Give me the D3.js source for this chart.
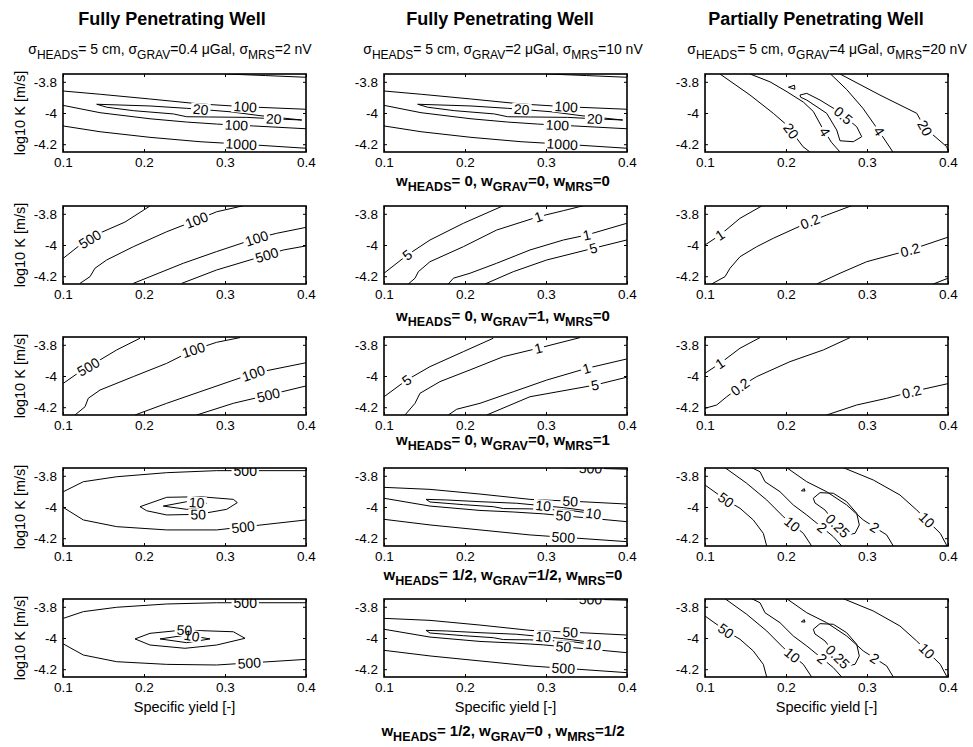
<!DOCTYPE html>
<html>
<head>
<meta charset="utf-8">
<script src="https://cdn.jsdelivr.net/npm/d3@7"></script>
<style>
  body { margin: 0; background: #fff; }
  svg text { font-family: "Liberation Sans", Arial, Helvetica, sans-serif; fill: #000; }
</style>
</head>
<body>
<div id="chart"></div>
<script>
// ---- data ----
const xDomain = [0.1, 0.4];
const yDomain = [-4.25, -3.75];
const xTicks = [0.1, 0.2, 0.3, 0.4];
const xTickLabels = ["0.1", "0.2", "0.3", "0.4"];
const yTicks = [-3.8, -4, -4.2];
const yTickLabels = ["-3.8", "-4", "-4.2"];

const colTitles = ["Fully Penetrating Well", "Fully Penetrating Well", "Partially Penetrating Well"];
const sigmaHeads = ["5 cm", "5 cm", "5 cm"];
const sigmaGrav = ["0.4", "2", "4"];
const sigmaMrs = ["2", "10", "20"];
const weightHeads = ["0", "0", "0", "1/2", "1/2"];
const weightGrav = ["0", "1", "0", "1/2", "0 "];
const weightMrs = ["0", "0", "1", "0", "1/2"];

// contour lines: level, points [Sy, log10K], label spots [Sy, log10K]
const fullyR1 = [
  { level: "1000", pts: [[0.302, -3.75], [0.35, -3.76], [0.40, -3.771]], labels: [] },
  { level: "100", pts: [[0.100, -3.859], [0.146, -3.880], [0.207, -3.910], [0.269, -3.942], [0.325, -3.960], [0.400, -3.976]], labels: [[0.325, -3.96]] },
  { level: "20", closed: true, pts: [[0.1416, -3.944], [0.2074, -3.955], [0.2527, -3.970], [0.3062, -3.992], [0.3432, -4.017], [0.3947, -4.045], [0.3596, -4.037], [0.3268, -4.028], [0.2527, -4.024], [0.2362, -4.006], [0.1868, -3.985], [0.1540, -3.963]], labels: [[0.27, -3.975], [0.36, -4.045]] },
  { level: "100", pts: [[0.1, -3.951], [0.1457, -3.998], [0.2074, -4.037], [0.2527, -4.058], [0.2897, -4.071], [0.3349, -4.083], [0.4, -4.101]], labels: [[0.314, -4.08]] },
  { level: "1000", pts: [[0.1, -4.083], [0.1457, -4.120], [0.2074, -4.156], [0.2691, -4.184], [0.3185, -4.199], [0.4, -4.226]], labels: [[0.32, -4.2]] }
];
const fullyR2a = [
  { level: "500", pts: [[0.1004, -4.085], [0.121, -4.0], [0.1457, -3.923], [0.1765, -3.853], [0.2074, -3.75]], labels: [[0.133, -3.96]] },
  { level: "100", pts: [[0.121, -4.246], [0.1333, -4.203], [0.1395, -4.149], [0.1539, -4.096], [0.1868, -4.011], [0.228, -3.915], [0.265, -3.840], [0.2897, -3.787], [0.3226, -3.748]], labels: [[0.265, -3.84]] },
  { level: "100", pts: [[0.1868, -4.246], [0.2074, -4.203], [0.2485, -4.117], [0.2897, -4.042], [0.3391, -3.957], [0.3638, -3.925], [0.4, -3.887]], labels: [[0.339, -3.957]] },
  { level: "500", pts: [[0.2465, -4.246], [0.2897, -4.160], [0.3309, -4.096], [0.3515, -4.064], [0.3720, -4.032], [0.4, -4.006]], labels: [[0.3515, -4.064]] }
];
const fullyR3a = [
  { level: "500", pts: [[0.1004, -4.047], [0.121, -3.972], [0.1457, -3.897], [0.1663, -3.833], [0.1951, -3.758]], labels: [[0.131, -3.94]] },
  { level: "100", pts: [[0.1148, -4.25], [0.1272, -4.197], [0.1312, -4.143], [0.1457, -4.090], [0.1868, -4.004], [0.228, -3.919], [0.2609, -3.833], [0.2897, -3.784], [0.3185, -3.754]], labels: [[0.261, -3.833]] },
  { level: "100", pts: [[0.1889, -4.25], [0.228, -4.175], [0.2691, -4.101], [0.3350, -3.983], [0.4, -3.915]], labels: [[0.335, -3.983]] },
  { level: "500", pts: [[0.2650, -4.25], [0.3103, -4.175], [0.3535, -4.122], [0.4, -4.064]], labels: [[0.3535, -4.122]] }
];
const fullyR4a = [
  { level: "500", pts: [[0.1004, -3.902], [0.1251, -3.838], [0.1663, -3.806], [0.228, -3.780], [0.2897, -3.767], [0.4, -3.767]], labels: [[0.325, -3.767]] },
  { level: "500", pts: [[0.1004, -4.003], [0.1251, -4.083], [0.1663, -4.126], [0.228, -4.147], [0.2897, -4.147], [0.4, -4.083]], labels: [[0.3226, -4.137]] },
  { level: "50", closed: true, pts: [[0.1951, -3.998], [0.228, -3.938], [0.2691, -3.934], [0.3103, -3.951], [0.3152, -3.972], [0.3021, -4.015], [0.267, -4.047], [0.228, -4.051], [0.2033, -4.024]], labels: [[0.267, -4.05]] },
  { level: "10", closed: true, pts: [[0.2238, -3.994], [0.2527, -3.966], [0.2774, -3.976], [0.2691, -4.008], [0.2527, -4.015]], labels: [[0.265, -3.975]] }
];
const fullyR5a = [
  { level: "500", pts: [[0.1004, -3.874], [0.1251, -3.831], [0.1663, -3.803], [0.228, -3.782], [0.2897, -3.774], [0.4, -3.774]], labels: [[0.325, -3.774]] },
  { level: "500", pts: [[0.1004, -4.038], [0.1251, -4.109], [0.1663, -4.152], [0.228, -4.169], [0.2897, -4.173], [0.4, -4.137]], labels: [[0.33, -4.16]] },
  { level: "50", closed: true, pts: [[0.1889, -4.006], [0.2074, -3.970], [0.2485, -3.949], [0.3103, -3.960], [0.3247, -4.002], [0.2897, -4.045], [0.2506, -4.066], [0.2074, -4.045]], labels: [[0.25, -3.95]] },
  { level: "10", closed: true, pts: [[0.2198, -4.006], [0.2527, -3.981], [0.2815, -4.006], [0.2527, -4.030]], labels: [[0.259, -3.985]] }
];
const fullyR2b = [
  { level: "5", pts: [[0.1, -4.181], [0.1288, -4.064], [0.1568, -3.968], [0.1979, -3.861], [0.2473, -3.748]], labels: [[0.1288, -4.064]] },
  { level: "1", pts: [[0.13, -4.25], [0.1383, -4.213], [0.1424, -4.171], [0.1568, -4.107], [0.1979, -4.011], [0.2391, -3.904], [0.2905, -3.819], [0.3214, -3.780], [0.3461, -3.748]], labels: [[0.2905, -3.819]] },
  { level: "1", pts: [[0.1794, -4.25], [0.1856, -4.213], [0.2062, -4.181], [0.2391, -4.117], [0.2802, -4.032], [0.3214, -3.968], [0.3502, -3.936], [0.3996, -3.861]], labels: [[0.3502, -3.936]] },
  { level: "5", pts: [[0.2247, -4.25], [0.2596, -4.171], [0.3009, -4.096], [0.3584, -4.021], [0.3996, -3.968]], labels: [[0.3584, -4.021]] }
];
const fullyR3b = [
  { level: "5", pts: [[0.1, -4.133], [0.128, -4.026], [0.1568, -3.940], [0.1979, -3.844], [0.2349, -3.758]], labels: [[0.128, -4.026]] },
  { level: "1", pts: [[0.1259, -4.25], [0.1383, -4.175], [0.1444, -4.111], [0.1691, -4.036], [0.2062, -3.961], [0.2473, -3.876], [0.2905, -3.822], [0.3420, -3.754]], labels: [[0.2905, -3.822]] },
  { level: "1", pts: [[0.1794, -4.25], [0.1898, -4.213], [0.2185, -4.175], [0.2596, -4.101], [0.3009, -4.026], [0.3502, -3.951], [0.3996, -3.891]], labels: [[0.3502, -3.951]] },
  { level: "5", pts: [[0.2268, -4.25], [0.2802, -4.133], [0.3605, -4.058], [0.3996, -4.008]], labels: [[0.3605, -4.058]] }
];
const fullyR4b = [
  { level: "500", pts: [[0.3214, -3.748], [0.36, -3.752], [0.3996, -3.758]], labels: [[0.355, -3.752]] },
  { level: "50", pts: [[0.1, -3.874], [0.1568, -3.887], [0.2185, -3.917], [0.2802, -3.951], [0.34, -3.965], [0.3996, -3.981]], labels: [[0.33, -3.96]] },
  { level: "10", closed: true, pts: [[0.1519, -3.951], [0.1774, -3.955], [0.2185, -3.966], [0.2638, -3.976], [0.3214, -4.004], [0.3502, -4.024], [0.3667, -4.048], [0.3296, -4.022], [0.2802, -4.012], [0.2473, -4.010], [0.2350, -3.998], [0.1979, -3.985], [0.1568, -3.968]], labels: [[0.2967, -3.99], [0.3584, -4.045]] },
  { level: "50", pts: [[0.1, -3.944], [0.1568, -3.994], [0.2185, -4.022], [0.2596, -4.032], [0.2967, -4.044], [0.3996, -4.094]], labels: [[0.3214, -4.072]] },
  { level: "500", pts: [[0.1, -4.079], [0.1568, -4.115], [0.2185, -4.147], [0.2802, -4.179], [0.3996, -4.222]], labels: [[0.3214, -4.194]] }
];
const partialR1 = [
  { level: "20", pts: [[0.1185, -3.75], [0.1556, -3.885], [0.1843, -4.002], [0.2009, -4.077], [0.2210, -4.216], [0.2296, -4.25]], labels: [[0.205, -4.12]] },
  { level: "4", pts: [[0.1556, -3.75], [0.1802, -3.80], [0.2000, -3.86], [0.2214, -3.93], [0.2337, -3.99], [0.2453, -4.10], [0.2564, -4.19], [0.2667, -4.25]], labels: [[0.2453, -4.13]] },
  { level: "0.5", closed: true, pts: [[0.2173, -3.885], [0.2256, -3.874], [0.2420, -3.917], [0.2650, -3.99], [0.2873, -4.088], [0.2935, -4.152], [0.2831, -4.184], [0.2667, -4.178], [0.2626, -4.109], [0.2502, -4.002], [0.2256, -3.917], [0.2181, -3.899]], labels: [[0.27, -4.02]] },
  { level: "0.5", closed: true, pts: [[0.203, -3.835], [0.2105, -3.822], [0.211, -3.848]], labels: [] },
  { level: "4", pts: [[0.255, -3.75], [0.275, -3.85], [0.295, -3.97], [0.314, -4.11], [0.332, -4.25]], labels: [[0.314, -4.12]] },
  { level: "20", pts: [[0.2667, -3.75], [0.316, -3.885], [0.3614, -4.002], [0.3716, -4.096], [0.3984, -4.216], [0.40, -4.24]], labels: [[0.3716, -4.096]] }
];
const partialR2 = [
  { level: "1", pts: [[0.1, -4.0], [0.1185, -3.936], [0.1432, -3.829], [0.1720, -3.744]], labels: [[0.1185, -3.936]] },
  { level: "0.2", pts: [[0.1082, -4.25], [0.1247, -4.203], [0.1309, -4.149], [0.1432, -4.075], [0.1638, -4.011], [0.1843, -3.957], [0.2296, -3.850], [0.2502, -3.808], [0.2831, -3.744]], labels: [[0.2296, -3.85]] },
  { level: "0.2", pts: [[0.2379, -4.25], [0.2667, -4.181], [0.2996, -4.107], [0.3531, -4.032], [0.4016, -3.947]], labels: [[0.3531, -4.032]] },
  { level: "0.2", pts: [[0.3819, -4.25], [0.4, -4.213]], labels: [] }
];
const partialR3 = [
  { level: "1", pts: [[0.1, -3.983], [0.1185, -3.919], [0.1432, -3.822], [0.1679, -3.754]], labels: [[0.1185, -3.919]] },
  { level: "0.2", pts: [[0.1, -4.207], [0.1144, -4.186], [0.1268, -4.133], [0.1432, -4.069], [0.1638, -4.004], [0.2049, -3.908], [0.2461, -3.833], [0.2790, -3.754]], labels: [[0.1432, -4.069]] },
  { level: "0.2", pts: [[0.2502, -4.25], [0.2872, -4.186], [0.3243, -4.143], [0.3552, -4.101], [0.4016, -4.047]], labels: [[0.3552, -4.101]] }
];
const partialR4 = [
  { level: "50", pts: [[0.1, -3.859], [0.1259, -3.955], [0.1432, -4.008], [0.1596, -4.083], [0.1720, -4.169], [0.1762, -4.25]], labels: [[0.1259, -3.955]] },
  { level: "10", pts: [[0.1247, -3.748], [0.1515, -3.848], [0.1762, -3.955], [0.1967, -4.062], [0.2214, -4.169], [0.2317, -4.25]], labels: [[0.207, -4.115]] },
  { level: "2", pts: [[0.1577, -3.748], [0.1679, -3.774], [0.1741, -3.838], [0.1926, -3.902], [0.2090, -3.987], [0.2256, -4.051], [0.2584, -4.19], [0.2688, -4.25]], labels: [[0.244, -4.137]] },
  { level: "0.25", closed: true, pts: [[0.2337, -3.944], [0.2420, -3.908], [0.2584, -3.912], [0.2749, -3.966], [0.2873, -4.040], [0.2905, -4.115], [0.2852, -4.169], [0.2749, -4.179], [0.2626, -4.115], [0.2481, -4.019], [0.2358, -3.974]], labels: [[0.2667, -4.105]] },
  { level: "0.25", closed: true, pts: [[0.219, -3.896], [0.2225, -3.882], [0.2235, -3.898]], labels: [] },
  { level: "2", pts: [[0.2009, -3.748], [0.2256, -3.838], [0.2502, -3.902], [0.2749, -3.987], [0.2954, -4.083], [0.3243, -4.179], [0.3325, -4.25]], labels: [[0.3099, -4.126]] },
  { level: "10", pts: [[0.2708, -3.748], [0.3078, -3.827], [0.3407, -3.923], [0.3613, -4.019], [0.3905, -4.169], [0.3988, -4.25]], labels: [[0.3737, -4.083]] }
];

const panelGrid = [
  [fullyR1, fullyR1, partialR1],
  [fullyR2a, fullyR2b, partialR2],
  [fullyR3a, fullyR3b, partialR3],
  [fullyR4a, fullyR4b, partialR4],
  [fullyR5a, fullyR4b, partialR4]
];

// ---- layout ----
const W = 973, H = 747;
const colX = [63, 384, 705];
const rowY = [74, 206, 337, 468, 599];
const plotW = 243, plotH = 78;
const titleX = [172, 500, 816];
const subX = [170, 503, 827];
const weightY = [186, 321, 445, 580, 736];

const svg = d3.select("#chart").append("svg")
  .attr("width", W).attr("height", H)
  .style("background", "#fff");

const x = d3.scaleLinear().domain(xDomain).range([0, plotW]);
const y = d3.scaleLinear().domain(yDomain).range([plotH, 0]);
const line = d3.line().x(d => x(d[0])).y(d => y(d[1]));

function richText(sel, parts, size, subSize, shift) {
  let off = 0;
  parts.forEach(p => {
    const target = p.sub ? shift : 0;
    sel.append("tspan")
      .attr("font-size", p.sub ? subSize : size)
      .attr("dy", target - off)
      .text(p.t);
    off = target;
  });
}

function nearest(px, q) {
  let best = { d: Infinity };
  for (let i = 0; i < px.length - 1; i++) {
    const a = px[i], b = px[i + 1];
    const dx = b[0] - a[0], dy = b[1] - a[1];
    const L2 = dx * dx + dy * dy || 1e-9;
    let t = ((q[0] - a[0]) * dx + (q[1] - a[1]) * dy) / L2;
    t = Math.max(0, Math.min(1, t));
    const cx = a[0] + t * dx, cy = a[1] + t * dy;
    const d = (cx - q[0]) ** 2 + (cy - q[1]) ** 2;
    if (d < best.d) best = { d, x: cx, y: cy, ang: Math.atan2(dy, dx) * 180 / Math.PI };
  }
  return best;
}

let pid = 0;
function drawPanel(g, lines) {
  const id = pid++;
  const defs = g.append("defs");
  defs.append("clipPath").attr("id", "clip" + id)
    .append("rect").attr("width", plotW).attr("height", plotH);
  const mask = defs.append("mask").attr("id", "mask" + id)
    .attr("maskUnits", "userSpaceOnUse")
    .attr("x", -10).attr("y", -10).attr("width", plotW + 20).attr("height", plotH + 20);
  mask.append("rect").attr("x", -10).attr("y", -10)
    .attr("width", plotW + 20).attr("height", plotH + 20).attr("fill", "white");

  const inner = g.append("g").attr("clip-path", `url(#clip${id})`);
  const lineG = inner.append("g").attr("mask", `url(#mask${id})`);
  const labelG = inner.append("g");

  lines.forEach(c => {
    const pts = c.closed ? c.pts.concat([c.pts[0]]) : c.pts;
    lineG.append("path").attr("d", line(pts))
      .attr("fill", "none").attr("stroke", "#000").attr("stroke-width", 1);
    const px = pts.map(p => [x(p[0]), y(p[1])]);
    c.labels.forEach(lp => {
      const nb = nearest(px, [x(lp[0]), y(lp[1])]);
      let ang = nb.ang;
      if (ang > 90) ang -= 180;
      if (ang < -90) ang += 180;
      const tr = `translate(${nb.x},${nb.y}) rotate(${ang})`;
      const t = labelG.append("text").attr("transform", tr)
        .attr("text-anchor", "middle").attr("dy", "0.36em")
        .attr("font-size", 14).text(c.level);
      const w = t.node().getComputedTextLength();
      mask.append("rect").attr("transform", tr)
        .attr("x", -w / 2 - 2).attr("y", -6).attr("width", w + 4).attr("height", 12)
        .attr("fill", "black");
    });
  });

  // axes with inward ticks
  const bottom = g.append("g").attr("transform", `translate(0,${plotH})`)
    .call(d3.axisBottom(x).tickValues(xTicks).tickSizeInner(-3).tickSizeOuter(0)
      .tickPadding(5).tickFormat((d, i) => xTickLabels[i]));
  const top = g.append("g")
    .call(d3.axisTop(x).tickValues(xTicks).tickSizeInner(-3).tickSizeOuter(0).tickFormat(""));
  const left = g.append("g")
    .call(d3.axisLeft(y).tickValues(yTicks).tickSizeInner(-3).tickSizeOuter(0)
      .tickPadding(6).tickFormat((d, i) => yTickLabels[i]));
  const right = g.append("g").attr("transform", `translate(${plotW},0)`)
    .call(d3.axisRight(y).tickValues(yTicks).tickSizeInner(-3).tickSizeOuter(0).tickFormat(""));
  [bottom, top, left, right].forEach(a => {
    a.attr("font-size", 13.5).attr("font-family", null);
    a.select(".domain").remove();
    a.selectAll("line").attr("stroke", "#000");
  });

  g.append("rect").attr("width", plotW).attr("height", plotH)
    .attr("fill", "none").attr("stroke", "#000").attr("stroke-width", 1.6);
}

panelGrid.forEach((row, r) => {
  row.forEach((lines, c) => {
    const g = svg.append("g").attr("transform", `translate(${colX[c]},${rowY[r]})`);
    drawPanel(g, lines);
    if (c === 0) {
      svg.append("text")
        .attr("transform", `translate(25,${rowY[r] + plotH / 2}) rotate(-90)`)
        .attr("text-anchor", "middle").attr("font-size", 14.5)
        .text("log10 K [m/s]");
    }
    if (r === panelGrid.length - 1) {
      svg.append("text").attr("x", colX[c] + plotW / 2).attr("y", 712)
        .attr("text-anchor", "middle").attr("font-size", 14.5)
        .text("Specific yield [-]");
    }
  });
});

// column titles and noise levels
colTitles.forEach((t, c) => {
  svg.append("text").attr("x", titleX[c]).attr("y", 25)
    .attr("text-anchor", "middle").attr("font-size", 18).attr("font-weight", "bold")
    .text(t);
  const st = svg.append("text").attr("x", subX[c]).attr("y", 54).attr("text-anchor", "middle");
  richText(st, [
    { t: "σ" }, { t: "HEADS", sub: true }, { t: "= " + sigmaHeads[c] + ", σ" },
    { t: "GRAV", sub: true }, { t: "=" + sigmaGrav[c] + " μGal, σ" },
    { t: "MRS", sub: true }, { t: "=" + sigmaMrs[c] + " nV" }
  ], 14, 12, 5);
});

// weight labels under middle column
weightHeads.forEach((wh, r) => {
  const t = svg.append("text").attr("x", 503).attr("y", weightY[r])
    .attr("text-anchor", "middle").attr("font-weight", "bold");
  richText(t, [
    { t: "w" }, { t: "HEADS", sub: true }, { t: "= " + wh + ", w" },
    { t: "GRAV", sub: true }, { t: "=" + weightGrav[r] + ", w" },
    { t: "MRS", sub: true }, { t: "=" + weightMrs[r] }
  ], 15, 12.5, 5);
});
</script>
</body>
</html>
